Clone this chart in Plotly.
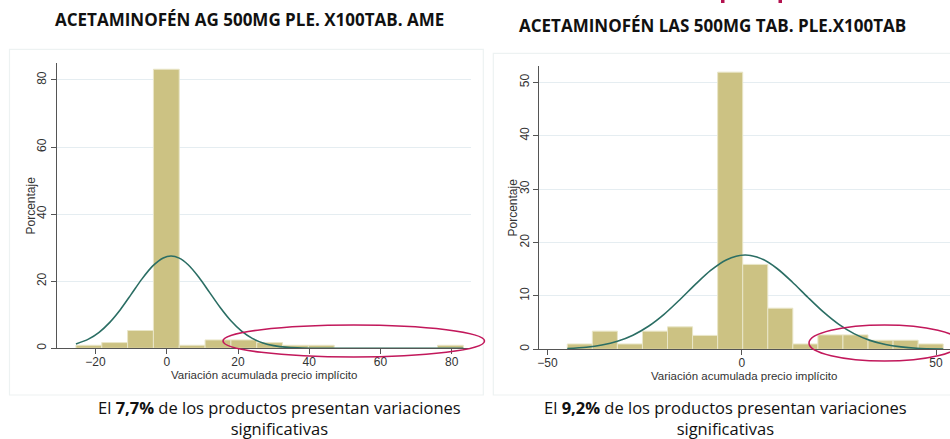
import plotly.graph_objects as go

W, H = 950, 439

# ---------------- data ----------------
titles = ["ACETAMINOFÉN AG 500MG PLE. X100TAB. AME",
          "ACETAMINOFÉN LAS 500MG TAB. PLE.X100TAB"]
shares = ["7,7%", "9,2%"]

# left histogram (percent per bin)
left_bin_start = -25.5
left_bin_width = 7.25
left_pct = [0.9, 1.7, 5.3, 83.2, 0.9, 2.5, 2.5, 1.7, 0.9, 0.9, 0, 0, 0, 0, 0.9]
left_curve_x = [-25.5, -22, -19, -16, -13, -10, -7, -4, -1, 1.2, 3.5, 6, 9, 12, 15,
                18, 21, 24, 27, 30, 34, 38, 44, 55, 70, 83.25]
left_curve_y = [1.29, 2.74, 4.78, 7.74, 11.59, 16.07, 20.62, 24.49, 26.94, 27.5, 26.88,
                24.91, 21.19, 16.68, 12.16, 8.20, 5.12, 2.96, 1.59, 0.79, 0.27, 0.08,
                0.01, 0.0, 0.0, 0.0]
left_yticks = [0, 20, 40, 60, 80]
left_xticks = [-20, 0, 20, 40, 60, 80]

# right histogram (percent per bin)
right_bin_start = -44.9
right_bin_width = 6.45
right_pct = [1.0, 3.4, 1.0, 3.4, 4.2, 2.6, 51.9, 15.9, 7.7, 1.0, 2.7, 2.7, 1.7, 1.7, 1.0]
right_curve_x = [-44.9, -40, -36, -32, -28, -24, -20, -16, -12, -8, -4, 0.85, 5, 9, 13,
                 17, 21, 25, 29, 33, 37, 41, 45, 51.85]
right_curve_y = [0.15, 0.39, 0.80, 1.50, 2.64, 4.31, 6.54, 9.24, 12.11, 14.77, 16.74,
                 17.66, 16.98, 15.18, 12.61, 9.74, 6.99, 4.66, 2.89, 1.67, 0.89, 0.45,
                 0.21, 0.05]
right_yticks = [0, 10, 20, 30, 40, 50]
right_xticks = [-50, 0, 50]

y_title = "Porcentaje"
x_title = "Variación acumulada precio implícito"

# ---------------- style ----------------
BAR = "#ccc283"
BAR_LINE = "#e9e6c8"
CURVE = "#2b6e64"
GRID = "#e5edf1"
BOX = "#edf2f2"
AXIS = "#555555"
RED = "#c2185b"
TICKFONT = dict(family="Liberation Sans, Arial", size=12, color="#333333")


def px(x):
    return x / W


def py(y):
    return 1 - y / H


def centers(start, width, n):
    return [start + width * (i + 0.5) for i in range(n)]


fig = go.Figure()

fig.add_trace(go.Bar(
    x=centers(left_bin_start, left_bin_width, len(left_pct)), y=left_pct,
    width=[left_bin_width] * len(left_pct),
    marker=dict(color=BAR, line=dict(color=BAR_LINE, width=1)),
    xaxis="x", yaxis="y", hoverinfo="skip"))
fig.add_trace(go.Scatter(
    x=left_curve_x, y=left_curve_y, mode="lines",
    line=dict(color=CURVE, width=1.6, shape="spline", smoothing=0.8),
    xaxis="x", yaxis="y", hoverinfo="skip"))

fig.add_trace(go.Bar(
    x=centers(right_bin_start, right_bin_width, len(right_pct)), y=right_pct,
    width=[right_bin_width] * len(right_pct),
    marker=dict(color=BAR, line=dict(color=BAR_LINE, width=1)),
    xaxis="x2", yaxis="y2", hoverinfo="skip"))
fig.add_trace(go.Scatter(
    x=right_curve_x, y=right_curve_y, mode="lines",
    line=dict(color=CURVE, width=1.6, shape="spline", smoothing=0.8),
    xaxis="x2", yaxis="y2", hoverinfo="skip"))

common_x = dict(showline=True, linecolor=AXIS, linewidth=1, ticks="outside",
                ticklen=5, tickcolor=AXIS, showgrid=False, zeroline=False,
                tickfont=TICKFONT, fixedrange=True, automargin=False,
                ticklabelstandoff=-3)
common_y = dict(showline=True, linecolor=AXIS, linewidth=1, ticks="outside",
                ticklen=5, tickcolor=AXIS, showgrid=True, gridcolor=GRID,
                gridwidth=1, zeroline=False, tickangle=-90, tickfont=TICKFONT,
                fixedrange=True, automargin=False)

fig.update_layout(
    width=W, height=H,
    margin=dict(l=0, r=0, t=0, b=0, autoexpand=False),
    paper_bgcolor="white", plot_bgcolor="white",
    showlegend=False,
    xaxis=dict(domain=[px(56.7), px(471)], range=[-30.9, 85.4],
               tickvals=left_xticks, anchor="y", **common_x),
    yaxis=dict(domain=[py(348.3), py(62.7)], range=[0, 85.15],
               tickvals=left_yticks, anchor="x", **common_y),
    xaxis2=dict(domain=[px(539.3), 1.0], range=[-52.1, 53.6],
                tickvals=right_xticks, anchor="y2", **common_x),
    yaxis2=dict(domain=[py(349.3), py(66)], range=[0, 53.05],
                tickvals=right_yticks, anchor="x2", **common_y),
)

shapes = [
    # panel boxes
    dict(type="rect", xref="paper", yref="paper", x0=px(9.5), x1=px(483.3),
         y0=py(395), y1=py(49.3), line=dict(color=BOX, width=1.2), layer="below"),
    dict(type="rect", xref="paper", yref="paper", x0=px(493.3), x1=px(960),
         y0=py(395), y1=py(53.3), line=dict(color=BOX, width=1.2), layer="below"),
    # highlight ellipses
    dict(type="circle", xref="paper", yref="paper", x0=px(223), x1=px(484.5),
         y0=py(357), y1=py(325), line=dict(color=RED, width=1.6)),
    dict(type="circle", xref="paper", yref="paper", x0=px(809), x1=px(960),
         y0=py(361), y1=py(325), line=dict(color=RED, width=1.6)),
    # cut-off red marks at top
    dict(type="rect", xref="paper", yref="paper", x0=px(721), x1=px(724.5),
         y0=py(3), y1=py(0), line=dict(width=0), fillcolor="#b3124f"),
    dict(type="rect", xref="paper", yref="paper", x0=px(778.5), x1=px(782),
         y0=py(3), y1=py(0), line=dict(width=0), fillcolor="#b3124f"),
]
fig.update_layout(shapes=shapes)

ann = []
TITLE_FONT = dict(family="Open Sans", size=17, color="#111111")
CAP_FONT = dict(family="Open Sans", size=16.5, color="#111111")
AX_FONT = dict(family="Liberation Sans, Arial", size=12, color="#333333")
XT_FONT = dict(family="Liberation Sans, Arial", size=11.5, color="#333333")

ann.append(dict(text="<b>" + titles[0] + "</b>", x=px(249), y=py(20),
                xref="paper", yref="paper", showarrow=False, font=TITLE_FONT,
                xanchor="center", yanchor="middle"))
ann.append(dict(text="<b>" + titles[1] + "</b>", x=px(712), y=py(25),
                xref="paper", yref="paper", showarrow=False, font=TITLE_FONT,
                xanchor="center", yanchor="middle"))

for cx, share in [(279, shares[0]), (725, shares[1])]:
    ann.append(dict(text="El <b>" + share + "</b> de los productos presentan variaciones<br>significativas",
                    x=px(cx), y=py(418), xref="paper", yref="paper", showarrow=False,
                    font=CAP_FONT, xanchor="center", yanchor="middle", align="center"))

for cx, cy in [(30, 205.5), (512, 207.5)]:
    ann.append(dict(text=y_title, x=px(cx), y=py(cy), xref="paper", yref="paper",
                    showarrow=False, textangle=-90, font=AX_FONT,
                    xanchor="center", yanchor="middle"))
for cx, cy in [(264, 375), (744, 376)]:
    ann.append(dict(text=x_title, x=px(cx), y=py(cy), xref="paper", yref="paper",
                    showarrow=False, font=XT_FONT, xanchor="center", yanchor="middle"))

fig.update_layout(annotations=ann)

fig.write_html(
    "out.html",
    config={"displayModeBar": False, "staticPlot": True},
    post_script="document.body.style.margin='0';document.body.style.overflow='hidden';",
)
